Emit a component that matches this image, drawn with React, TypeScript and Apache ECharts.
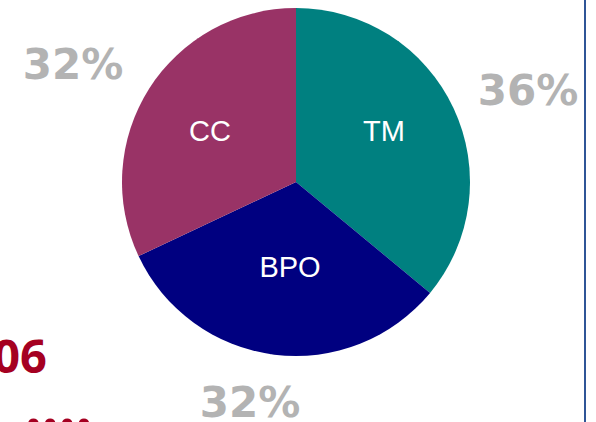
import React, { useEffect, useRef } from "react";
import * as echarts from "echarts";

const categories = ["TM", "BPO", "CC"];
const values = [36, 32, 32];
const colors = ["#008080", "#000080", "#993366"];

const nameLabelPos: [number, number][] = [
  [384, 131],
  [290, 267],
  [210, 131],
];
const pctLabelPos: [number, number][] = [
  [528, 90],
  [250, 402],
  [73, 64],
];

export default function App() {
  const ref = useRef<HTMLDivElement>(null);
  useEffect(() => {
    if (!ref.current) return;
    const chart = echarts.init(ref.current, undefined, { renderer: "svg" });
    const data = categories.map((c, i) => ({
      name: c,
      value: values[i],
      itemStyle: { color: colors[i] },
    }));
    chart.setOption({
      animation: false,
      backgroundColor: "#ffffff",
      series: [
        {
          type: "pie",
          center: [296, 182],
          radius: 174,
          startAngle: 90,
          clockwise: true,
          silent: true,
          itemStyle: { borderWidth: 0 },
          label: {
            show: true,
            position: "inside",
            formatter: "{b}",
            color: "#ffffff",
            fontFamily: "Liberation Sans",
            fontSize: 29,
            overflow: "none",
          },
          labelLayout: (p: any) => ({
            x: nameLabelPos[p.dataIndex][0],
            y: nameLabelPos[p.dataIndex][1],
            align: "center",
            verticalAlign: "middle",
          }),
          emphasis: { disabled: true },
          data,
        },
        {
          type: "pie",
          center: [296, 182],
          radius: 174,
          startAngle: 90,
          clockwise: true,
          silent: true,
          z: 1,
          itemStyle: { color: "transparent", borderWidth: 0 },
          label: {
            show: true,
            position: "outside",
            alignTo: "none",
            formatter: "{d}%",
            color: "#b3b3b3",
            fontFamily: "DejaVu Sans",
            fontWeight: "bold",
            fontSize: 42,
            overflow: "none",
            width: 200,
          },
          labelLine: { show: false },
          labelLayout: (p: any) => ({
            x: pctLabelPos[p.dataIndex][0],
            y: pctLabelPos[p.dataIndex][1],
            align: "center",
            verticalAlign: "middle",
          }),
          emphasis: { disabled: true },
          data: categories.map((c, i) => ({ name: c, value: values[i] })),
        },
      ],
      graphic: [
        {
          type: "line",
          shape: { x1: 585, y1: 0, x2: 585, y2: 422 },
          style: { stroke: "#2f5597", lineWidth: 2 },
        },
        {
          type: "text",
          x: 47,
          y: 355,
          style: {
            text: "2006",
            fill: "#a50021",
            font: "bold 47px 'Noto Sans'",
            textAlign: "right",
            textVerticalAlign: "middle",
          },
        },
        {
          type: "text",
          x: 25,
          y: 375,
          style: {
            text: "....",
            fill: "#a50021",
            font: "bold 60px 'Noto Sans'",
            textAlign: "left",
            textVerticalAlign: "top",
          },
        },
      ],
    });
    return () => chart.dispose();
  }, []);
  return (
    <div
      ref={ref}
      style={{ position: "absolute", left: 0, top: 0, width: 596, height: 422 }}
    />
  );
}
